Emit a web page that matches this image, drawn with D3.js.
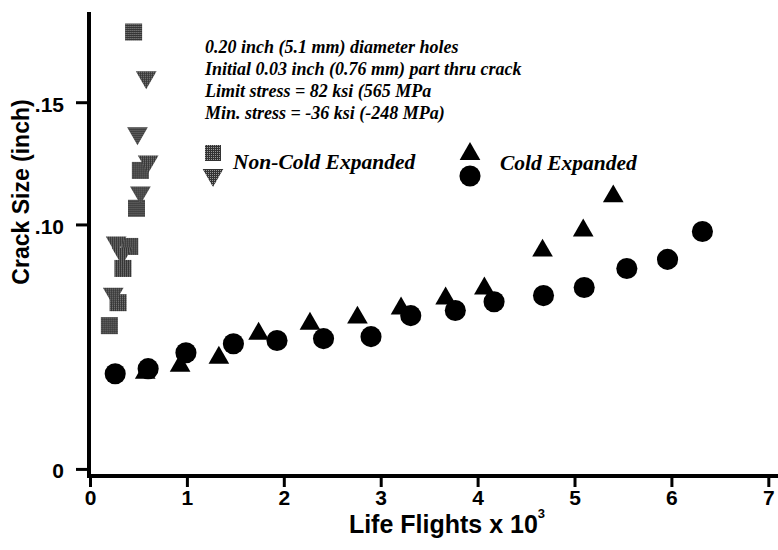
<!DOCTYPE html>
<html>
<head>
<meta charset="utf-8">
<script src="https://cdn.jsdelivr.net/npm/d3@7"></script>
<style>
  body { margin: 0; background: #fff; }
  svg { display: block; }
</style>
</head>
<body>
<svg id="chart" width="778" height="550"></svg>
<script>
// Non-cold expanded specimens (life in thousands of flights, crack size in inch)
var ncSquareX = [0.45, 0.52, 0.48, 0.41, 0.34, 0.29, 0.20];
var ncSquareY = [0.1787, 0.1221, 0.1066, 0.0910, 0.0820, 0.0680, 0.0586];
var ncTriX = [0.58, 0.49, 0.60, 0.52, 0.27, 0.33, 0.24];
var ncTriY = [0.1602, 0.1373, 0.1258, 0.1131, 0.0926, 0.0881, 0.0717];

// Cold expanded specimens
var ceCircleX = [0.26, 0.60, 0.99, 1.48, 1.93, 2.41, 2.90, 3.31, 3.77, 4.17, 4.68, 5.10, 5.54, 5.96, 6.32];
var ceCircleY = [0.0389, 0.0410, 0.0475, 0.0512, 0.0525, 0.0533, 0.0541, 0.0627, 0.0648, 0.0684, 0.0709, 0.0742, 0.0820, 0.0857, 0.0971];
var ceTriX = [0.57, 0.93, 1.33, 1.74, 2.27, 2.76, 3.21, 3.67, 4.07, 4.67, 5.09, 5.40];
var ceTriY = [0.0393, 0.0422, 0.0455, 0.0553, 0.0594, 0.0619, 0.0656, 0.0697, 0.0738, 0.0893, 0.0975, 0.1115];

var xTicks = [0, 1, 2, 3, 4, 5, 6, 7];
var yTicks = [0, 0.10, 0.15];
var yTickLabels = ["0", ".10", ".15"];

var notes = [
  "0.20 inch (5.1 mm) diameter holes",
  "Initial 0.03 inch (0.76 mm) part thru crack",
  "Limit stress = 82 ksi (565 MPa",
  "Min. stress = -36 ksi (-248 MPa)"
];

var svg = d3.select("#chart");
var mLeft = 89, mRight = 778, mTop = 12, mBottom = 476;

var x = d3.scaleLinear().domain([0, 7.1]).range([mLeft + 1, mRight]);
var y = d3.scaleLinear().domain([-0.0029, 0.1869]).range([mBottom, mTop]);

// stippled grey fill for the non-cold expanded marks
var defs = svg.append("defs");
var pat = defs.append("pattern")
  .attr("id", "stip")
  .attr("width", 2).attr("height", 2)
  .attr("patternUnits", "userSpaceOnUse");
pat.append("rect").attr("width", 2).attr("height", 2).attr("fill", "#333");
pat.append("rect").attr("width", 1).attr("height", 1).attr("fill", "#999");

var sq = d3.symbol().type(d3.symbolSquare).size(290);
var tri = d3.symbol().type(d3.symbolTriangle).size(185);
var circ = d3.symbol().type(d3.symbolCircle).size(350);

function pts(xs, ys) { return xs.map(function (v, i) { return [v, ys[i]]; }); }

var sans = "'Liberation Sans', Arial, sans-serif";

// axes
var yAxis = d3.axisLeft(y)
  .tickValues(yTicks)
  .tickFormat(function (d, i) { return yTickLabels[i]; })
  .tickSize(13).tickSizeOuter(0).tickPadding(12);
var gy = svg.append("g").attr("transform", "translate(" + mLeft + ",0)").call(yAxis);

var xAxis = d3.axisBottom(x).tickValues(xTicks).tickFormat(d3.format("d"))
  .tickSize(11).tickSizeOuter(0).tickPadding(3);
var gx = svg.append("g").attr("transform", "translate(0," + mBottom + ")").call(xAxis);

[gx, gy].forEach(function (g) {
  g.select(".domain").attr("stroke", "#000").attr("stroke-width", 4);
  g.selectAll(".tick line").attr("stroke", "#000").attr("stroke-width", 3);
  g.selectAll(".tick text")
    .attr("fill", "#000")
    .style("font-family", sans)
    .style("font-weight", "bold")
    .style("font-size", "21px");
});
gy.selectAll(".tick text").attr("dy", "0.42em");
gy.select(".domain").attr("d", "M0," + mTop + "V" + mBottom);
gx.select(".domain").attr("d", "M" + (mLeft - 2) + ",0H" + mRight);

// axis titles
svg.append("text")
  .attr("x", 447).attr("y", 533)
  .attr("text-anchor", "middle")
  .style("font-family", sans)
  .style("font-weight", "bold").style("font-size", "25px")
  .text("Life Flights x 10")
  .append("tspan").attr("dy", -15).style("font-size", "13px").text("3");

svg.append("text")
  .attr("transform", "translate(29,192) rotate(-90)")
  .attr("text-anchor", "middle")
  .style("font-family", sans)
  .style("font-weight", "bold").style("font-size", "23px")
  .text("Crack Size (inch)");

// data marks
svg.append("g").selectAll("path").data(pts(ncSquareX, ncSquareY)).join("path")
  .attr("d", sq).attr("fill", "url(#stip)")
  .attr("transform", function (d) { return "translate(" + x(d[0]) + "," + y(d[1]) + ")"; });
svg.append("g").selectAll("path").data(pts(ncTriX, ncTriY)).join("path")
  .attr("d", tri).attr("fill", "url(#stip)")
  .attr("transform", function (d) { return "translate(" + x(d[0]) + "," + y(d[1]) + ") rotate(180)"; });
svg.append("g").selectAll("path").data(pts(ceTriX, ceTriY)).join("path")
  .attr("d", tri).attr("fill", "#000")
  .attr("transform", function (d) { return "translate(" + x(d[0]) + "," + y(d[1]) + ")"; });
svg.append("g").selectAll("path").data(pts(ceCircleX, ceCircleY)).join("path")
  .attr("d", circ).attr("fill", "#000")
  .attr("transform", function (d) { return "translate(" + x(d[0]) + "," + y(d[1]) + ")"; });

// notes and legend
var serif = "'Liberation Serif', 'Times New Roman', serif";
svg.append("g").selectAll("text").data(notes).join("text")
  .attr("x", 205).attr("y", function (d, i) { return 53 + i * 22; })
  .style("font-family", serif).style("font-style", "italic").style("font-weight", "bold")
  .style("font-size", "18px")
  .text(function (d) { return d; });

var leg = svg.append("g");
leg.append("path").attr("d", sq.size(256)).attr("fill", "url(#stip)").attr("transform", "translate(213,153)");
leg.append("path").attr("d", tri.size(185)).attr("fill", "url(#stip)").attr("transform", "translate(213,175) rotate(180)");
leg.append("text").attr("x", 233).attr("y", 169)
  .style("font-family", serif).style("font-style", "italic").style("font-weight", "bold")
  .style("font-size", "21.5px").text("Non-Cold Expanded");
leg.append("path").attr("d", tri.size(185)).attr("fill", "#000").attr("transform", "translate(470,154)");
leg.append("path").attr("d", circ.size(350)).attr("fill", "#000").attr("transform", "translate(470,176)");
leg.append("text").attr("x", 500).attr("y", 170)
  .style("font-family", serif).style("font-style", "italic").style("font-weight", "bold")
  .style("font-size", "21.5px").text("Cold Expanded");
</script>
</body>
</html>
